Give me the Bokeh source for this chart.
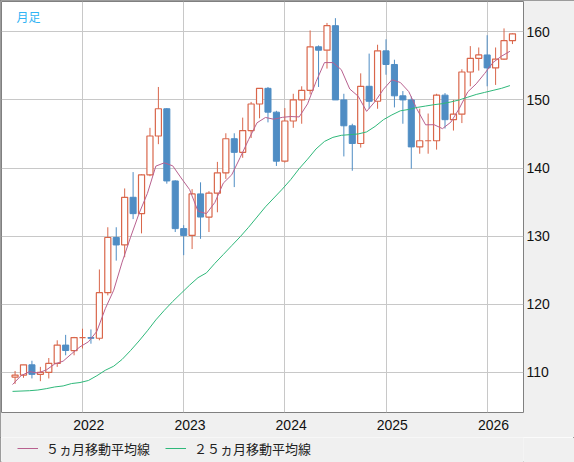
from bokeh.plotting import figure
from bokeh.layouts import column
from bokeh.models import ColumnDataSource, FixedTicker, Legend, LegendItem, Label, Range1d
from bokeh.embed import file_html
from bokeh.resources import INLINE

# ---- data (USD/JPY monthly candles) ----
months = ["2021-05", "2021-06", "2021-07", "2021-08", "2021-09", "2021-10", "2021-11", "2021-12",
          "2022-01", "2022-02", "2022-03", "2022-04", "2022-05", "2022-06", "2022-07", "2022-08",
          "2022-09", "2022-10", "2022-11", "2022-12", "2023-01", "2023-02", "2023-03", "2023-04",
          "2023-05", "2023-06", "2023-07", "2023-08", "2023-09", "2023-10", "2023-11", "2023-12",
          "2024-01", "2024-02", "2024-03", "2024-04", "2024-05", "2024-06", "2024-07", "2024-08",
          "2024-09", "2024-10", "2024-11", "2024-12", "2025-01", "2025-02", "2025-03", "2025-04",
          "2025-05", "2025-06", "2025-07", "2025-08", "2025-09", "2025-10", "2025-11", "2025-12",
          "2026-01", "2026-02", "2026-03", "2026-04"]

opens = [109.3, 109.6, 111.1, 109.7, 110.0, 111.3, 114.0, 113.2, 115.1, 115.1,
         115.0, 121.7, 129.8, 128.7, 135.7, 133.3, 139.0, 144.7, 148.7, 138.1,
         131.1, 130.1, 136.2, 132.8, 136.3, 139.3, 144.3, 142.3, 145.5, 149.4,
         151.7, 148.2, 141.0, 146.9, 150.0, 151.4, 157.8, 157.3, 160.9, 150.0,
         146.2, 143.6, 152.0, 149.8, 157.2, 155.2, 150.6, 150.0, 143.1, 144.0,
         144.0, 150.7, 147.1, 147.9, 154.1, 156.1, 156.6, 154.7, 156.0, 158.7]
highs = [110.2, 111.1, 111.7, 110.8, 112.1, 114.7, 115.5, 115.2, 116.4, 116.3,
         125.1, 131.3, 131.3, 137.0, 139.4, 139.1, 145.9, 151.9, 148.8, 138.2,
         131.6, 136.9, 137.9, 136.6, 140.9, 145.1, 145.1, 147.4, 149.7, 151.7,
         151.9, 148.4, 148.8, 150.9, 152.0, 160.2, 158.0, 161.3, 162.0, 150.9,
         146.5, 153.9, 156.8, 158.1, 158.9, 155.9, 151.3, 150.5, 148.7, 148.0,
         150.9, 151.0, 150.0, 154.5, 157.9, 157.7, 159.5, 157.7, 160.5, 159.8]
lows = [108.3, 109.2, 109.1, 108.7, 109.1, 110.8, 112.5, 112.5, 113.5, 114.2,
        114.7, 121.3, 126.4, 126.9, 132.5, 130.4, 138.8, 143.5, 137.7, 130.6,
        127.2, 128.1, 129.6, 130.6, 133.5, 138.4, 137.2, 141.5, 144.4, 147.3,
        146.7, 140.3, 140.8, 145.9, 146.5, 150.8, 151.9, 154.6, 151.9, 141.7,
        139.6, 143.0, 148.7, 148.7, 153.7, 148.9, 146.5, 139.9, 142.1, 142.1,
        142.7, 145.8, 145.5, 146.6, 152.0, 154.3, 152.0, 152.2, 155.9, 158.2]
closes = [109.6, 111.1, 109.7, 110.0, 111.3, 114.0, 113.2, 115.1, 115.1, 115.0,
          121.7, 129.8, 128.7, 135.7, 133.3, 139.0, 144.7, 148.7, 138.1, 131.1,
          130.1, 136.2, 132.8, 136.3, 139.3, 144.3, 142.3, 145.5, 149.4, 151.7,
          148.2, 141.0, 146.9, 150.0, 151.4, 157.8, 157.3, 160.9, 150.0, 146.2,
          143.6, 152.0, 149.8, 157.2, 155.2, 150.6, 150.0, 143.1, 144.0, 144.0,
          150.7, 147.1, 147.9, 154.1, 156.1, 156.6, 154.7, 156.0, 158.7, 159.7]

ma5 = [108.2, 109.5, 110.1, 109.9, 110.34, 111.22, 111.64, 112.72, 113.74, 114.48,
       116.02, 119.34, 122.06, 126.18, 129.84, 133.3, 136.28, 140.28, 140.76, 140.32,
       138.54, 136.84, 133.66, 133.3, 134.94, 137.78, 139.0, 141.54, 144.16, 146.64,
       147.42, 147.16, 147.44, 147.56, 147.5, 149.42, 152.68, 155.48, 155.48, 154.44,
       151.6, 150.54, 148.32, 149.76, 151.56, 152.96, 152.56, 151.22, 148.58, 146.34,
       146.36, 145.78, 146.74, 148.76, 151.18, 152.36, 153.88, 155.5, 156.42, 157.14]
ma25 = [107.2, 107.25, 107.3, 107.4, 107.6, 107.85, 108.0, 108.35, 108.5, 108.8,
        109.5, 110.3, 110.9, 111.9, 113.2, 114.6, 116.1, 117.7, 119.1, 120.4,
        121.6, 122.8, 123.9, 124.6, 126.0, 127.3, 128.6, 129.9, 131.3, 132.8,
        134.3, 135.6, 136.9, 138.3, 139.9, 141.3, 142.8, 143.9, 144.5, 144.8,
        144.9, 145.0, 145.3, 146.1, 147.1, 147.8, 148.4, 148.6, 148.9, 149.1,
        149.3, 149.45, 149.7, 150.0, 150.4, 150.8, 151.1, 151.4, 151.7, 152.1]

year_labels = ["2022", "2023", "2024", "2025", "2026"]
year_start_months = ["2022-01", "2023-01", "2024-01", "2025-01", "2026-01"]
y_ticks = [110, 120, 130, 140, 150, 160]
ma5_label = "５ヵ月移動平均線"
ma25_label = "２５ヵ月移動平均線"
period_label = "月足"

# ---- styles ----
UP = "#d9664a"
DOWN = "#4f8dc4"
MA5_COLOR = "#b8618f"
MA25_COLOR = "#2fb87a"
GRID = "#c8c8c8"
BAND = "#f0f0f0"

idx = list(range(len(months)))
up = dict(x=[], high=[], low=[], top=[], bottom=[])
dn = dict(x=[], high=[], low=[], top=[], bottom=[])
for i, o, h, l, c in zip(idx, opens, highs, lows, closes):
    d = up if c >= o else dn
    d["x"].append(i)
    d["high"].append(h)
    d["low"].append(l)
    d["top"].append(max(o, c))
    d["bottom"].append(min(o, c))
up_src = ColumnDataSource(up)
dn_src = ColumnDataSource(dn)

FRAME_H = 411
# ---- main chart ----
p = figure(width=574, height=437, title=None,
           x_range=Range1d(-1.61, 60.31), y_range=Range1d(104.1, 164.45),
           y_axis_location="right", output_backend="svg", toolbar_location=None,
           min_border_left=1, min_border_top=1, min_border_right=51, min_border_bottom=25,
           background_fill_color="white", border_fill_color=BAND,
           outline_line_color="#808080", outline_line_width=1)

jan_idx = [months.index(m) for m in year_start_months]
label_ticks = [j + 0.75 for j in jan_idx]
p.xaxis.ticker = FixedTicker(ticks=label_ticks)
p.xaxis.major_label_overrides = {t: lab for t, lab in zip(label_ticks, year_labels)}
p.xgrid[0].ticker = FixedTicker(ticks=jan_idx)
p.yaxis.ticker = FixedTicker(ticks=y_ticks)

for ax in (p.xaxis[0], p.yaxis[0]):
    ax.axis_line_color = None
    ax.major_tick_line_color = None
    ax.minor_tick_line_color = None
    ax.major_tick_out = 0
    ax.major_tick_in = 0
    ax.major_label_text_font = "Liberation Sans"
    ax.major_label_text_font_size = "14px"
    ax.major_label_text_color = "#111111"
p.yaxis.major_label_standoff = 3
p.xaxis.major_label_standoff = 7

p.xgrid.grid_line_color = GRID
p.ygrid.grid_line_color = GRID
p.xgrid.grid_line_width = 1
p.ygrid.grid_line_width = 1

# candles
p.segment(x0="x", y0="high", x1="x", y1="low", source=up_src, line_color=UP, line_width=1)
p.vbar(x="x", width=0.72, top="top", bottom="bottom", source=up_src,
       fill_color="white", line_color=UP, line_width=1.2)
p.segment(x0="x", y0="high", x1="x", y1="low", source=dn_src, line_color=DOWN, line_width=1)
p.vbar(x="x", width=0.72, top="top", bottom="bottom", source=dn_src,
       fill_color=DOWN, line_color=DOWN, line_width=1)

ma_x = [i - 0.3 for i in idx]
p.line(ma_x, ma5, line_color=MA5_COLOR, line_width=1)
p.line(ma_x, ma25, line_color=MA25_COLOR, line_width=1)

p.add_layout(Label(x=15, y=FRAME_H - 6, x_units="screen", y_units="screen",
                   text=period_label, text_font="Noto Sans CJK JP", text_font_size="12px",
                   text_color="#30b4f4", text_baseline="top"))

# ---- legend strip under the chart ----
q = figure(width=574, height=25, title=None, x_range=Range1d(0, 1), y_range=Range1d(0, 1),
           x_axis_type=None, y_axis_type=None, output_backend="svg", toolbar_location=None,
           min_border_left=0, min_border_right=0, min_border_top=0, min_border_bottom=0,
           background_fill_color=BAND, border_fill_color=BAND, outline_line_color=None)
q.xgrid.visible = False
q.ygrid.visible = False
# the legend's glyphs: the same MA lines (they fall outside this strip's ranges)
l5 = q.line(ma_x, ma5, line_color=MA5_COLOR, line_width=1)
l25 = q.line(ma_x, ma25, line_color=MA25_COLOR, line_width=1)

legend = Legend(items=[LegendItem(label=ma5_label, renderers=[l5]),
                       LegendItem(label=ma25_label, renderers=[l25])],
                location=(16, 4), orientation="horizontal",
                margin=0, padding=0, spacing=15, glyph_width=21, glyph_height=20,
                label_height=20, label_standoff=8, label_text_font="Noto Sans CJK JP",
                label_text_font_size="13px", label_text_color="#222222",
                background_fill_alpha=0, border_line_color=None)
q.add_layout(legend)

layout = column(p, q, spacing=0,
                styles={"outline": "1px solid #808080", "outline-offset": "-1px"})

open("out.html", "w").write(file_html(layout, INLINE))
